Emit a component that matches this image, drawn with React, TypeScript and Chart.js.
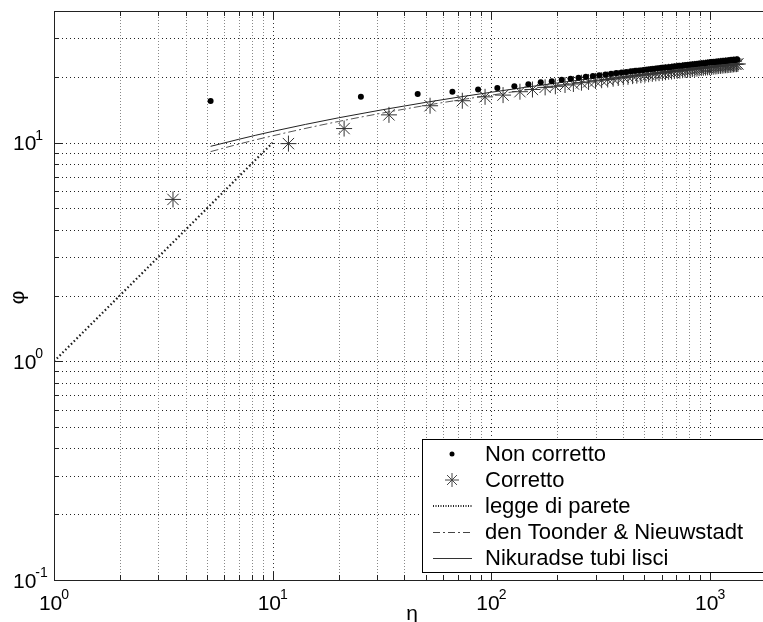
import React, { useEffect, useRef } from "react";
import { Chart, registerables } from "chart.js";

Chart.register(...registerables);

// ---- data ----
const nonCorrettoX = [5.2, 25.3, 46.0, 66.3, 86.9, 106.4, 127.3, 147.5, 168.0, 188.7, 209.5, 230, 250, 270, 291, 311, 332, 352, 372, 393, 413, 434, 454, 474, 495, 515, 536, 556, 576, 597, 617, 638, 658, 678, 699, 719, 740, 760, 780, 801, 821, 842, 862, 882, 903, 923, 944, 964, 984, 1005, 1025, 1046, 1066, 1086, 1107, 1127, 1148, 1168, 1188, 1209, 1229, 1250, 1270, 1290, 1311, 1331];
const nonCorrettoY = [15.5, 16.2, 16.7, 17.1, 17.5, 17.8, 18.1, 18.5, 18.9, 19.1, 19.4, 19.6, 19.8, 20.0, 20.2, 20.35, 20.5, 20.65, 20.8, 20.95, 21.05, 21.2, 21.3, 21.4, 21.5, 21.6, 21.7, 21.8, 21.9, 22.0, 22.05, 22.15, 22.2, 22.3, 22.35, 22.45, 22.5, 22.6, 22.65, 22.7, 22.8, 22.85, 22.9, 22.95, 23.0, 23.05, 23.1, 23.2, 23.25, 23.3, 23.35, 23.4, 23.45, 23.5, 23.5, 23.55, 23.6, 23.65, 23.7, 23.75, 23.8, 23.85, 23.9, 23.9, 23.95, 24.0];

const correttoX = [3.5, 11.8, 21.2, 34.0, 52.4, 73.6, 93.5, 113, 135, 154, 176, 196, 217, 237, 258, 278, 299, 319, 340, 360, 380, 401, 421, 442, 462, 482, 503, 523, 544, 564, 584, 605, 625, 646, 666, 686, 707, 727, 748, 768, 788, 809, 829, 850, 870, 890, 911, 931, 952, 972, 992, 1013, 1033, 1054, 1074, 1094, 1115, 1135, 1156, 1176, 1196, 1217, 1237, 1258, 1278, 1298, 1319, 1339];
const correttoY = [5.5, 9.9, 11.6, 13.4, 14.75, 15.55, 16.2, 16.5, 17.1, 17.5, 17.9, 18.1, 18.35, 18.55, 18.8, 18.95, 19.15, 19.3, 19.45, 19.6, 19.75, 19.9, 20.0, 20.15, 20.25, 20.35, 20.45, 20.55, 20.65, 20.75, 20.8, 20.9, 21.0, 21.1, 21.15, 21.25, 21.3, 21.35, 21.45, 21.5, 21.55, 21.65, 21.7, 21.75, 21.8, 21.9, 21.95, 22.0, 22.05, 22.1, 22.15, 22.2, 22.25, 22.3, 22.35, 22.4, 22.45, 22.5, 22.55, 22.6, 22.6, 22.65, 22.7, 22.75, 22.8, 22.85, 22.85, 22.9];

const leggeX = [1, 10];
const leggeY = [1, 10];

const toonderX = [5.2, 7, 10, 20, 50, 100, 200, 500, 1000, 1400];
const toonderY = [9.1, 9.85, 10.75, 12.5, 14.8, 16.5, 18.25, 20.55, 22.25, 23.1];

const nikuradseX = [5.2, 7, 10, 20, 50, 100, 200, 500, 1000, 1400];
const nikuradseY = [9.62, 10.36, 11.26, 12.99, 15.28, 17.01, 18.75, 21.04, 22.77, 23.61];

const legendLabels = ["Non corretto", "Corretto", "legge di parete", "den Toonder & Nieuwstadt", "Nikuradse tubi lisci"];

const xMajorTicks = [1, 10, 100, 1000];
const xTickExps = ["0", "1", "2", "3"];
const xMinorTicks = [2, 3, 4, 5, 6, 7, 8, 9, 20, 30, 40, 50, 60, 70, 80, 90, 200, 300, 400, 500, 600, 700, 800, 900];
const yMajorTicks = [0.1, 1, 10];
const yTickExps = ["-1", "0", "1"];
const yMinorTicks = [0.2, 0.3, 0.4, 0.5, 0.6, 0.7, 0.8, 0.9, 2, 3, 4, 5, 6, 7, 8, 9, 20, 30];

const xTitle = "η";
const yTitle = "φ";

const X_MIN = 1;
const X_MAX = 2000;
const Y_MIN = 0.1;
const Y_MAX = 40;

const FONT = '"Liberation Sans", Arial, sans-serif';

const pts = (xs: number[], ys: number[]) => xs.map((x, i) => ({ x, y: ys[i] }));

function drawStar(ctx: CanvasRenderingContext2D, cx: number, cy: number, r: number) {
  const d = r * Math.SQRT1_2;
  ctx.beginPath();
  ctx.moveTo(cx - r, cy); ctx.lineTo(cx + r, cy);
  ctx.moveTo(cx, cy - r); ctx.lineTo(cx, cy + r);
  ctx.moveTo(cx - d, cy - d); ctx.lineTo(cx + d, cy + d);
  ctx.moveTo(cx - d, cy + d); ctx.lineTo(cx + d, cy - d);
  ctx.stroke();
}

const matlabPlugin = {
  id: "matlabAxes",
  beforeDatasetsDraw(chart: any) {
    const { ctx, chartArea: a, scales } = chart;
    const xs = scales.x, ys = scales.y;
    ctx.save();
    ctx.lineWidth = 1;
    ctx.strokeStyle = "#222";
    ctx.setLineDash([1, 3]);
    for (const v of [...yMajorTicks, ...yMinorTicks]) {
      const py = Math.round(ys.getPixelForValue(v)) + 0.5;
      if (py < a.top + 1 || py > a.bottom - 1) continue;
      ctx.beginPath(); ctx.moveTo(a.left, py); ctx.lineTo(a.right, py); ctx.stroke();
    }
    for (const v of [...xMajorTicks, ...xMinorTicks]) {
      const px = Math.round(xs.getPixelForValue(v)) + 0.5;
      if (px < a.left + 1 || px > a.right - 1) continue;
      const major = xMajorTicks.includes(v);
      ctx.strokeStyle = major ? "#333" : "#888";
      ctx.setLineDash(major ? [1, 3] : [1, 2]);
      ctx.beginPath(); ctx.moveTo(px, a.top); ctx.lineTo(px, a.bottom); ctx.stroke();
    }
    ctx.restore();
  },
  afterDraw(chart: any) {
    const { ctx, chartArea: a, scales } = chart;
    const xs = scales.x, ys = scales.y;
    ctx.save();
    ctx.setLineDash([]);
    ctx.lineWidth = 1;
    ctx.strokeStyle = "#222";
    const tickX = (v: number, len: number) => {
      const px = Math.round(xs.getPixelForValue(v)) + 0.5;
      ctx.beginPath();
      ctx.moveTo(px, a.bottom); ctx.lineTo(px, a.bottom - len);
      ctx.moveTo(px, a.top); ctx.lineTo(px, a.top + len);
      ctx.stroke();
    };
    const tickY = (v: number, len: number) => {
      const py = Math.round(ys.getPixelForValue(v)) + 0.5;
      ctx.beginPath();
      ctx.moveTo(a.left, py); ctx.lineTo(a.left + len, py);
      ctx.moveTo(a.right, py); ctx.lineTo(a.right - len, py);
      ctx.stroke();
    };
    xMajorTicks.forEach((v) => tickX(v, 8));
    xMinorTicks.forEach((v) => tickX(v, 5));
    yMajorTicks.forEach((v) => tickY(v, 8));
    yMinorTicks.forEach((v) => tickY(v, 5));

    ctx.strokeStyle = "#222";
    ctx.strokeRect(Math.round(a.left) + 0.5, Math.round(a.top) + 0.5, Math.round(a.right - a.left), Math.round(a.bottom - a.top));

    // legend
    const lx = 422, ly = 439, lw = 346, lh = 133;
    ctx.fillStyle = "#fff";
    ctx.fillRect(lx, ly, lw, lh);
    ctx.strokeStyle = "#000";
    ctx.strokeRect(lx + 0.5, ly + 0.5, lw, lh);
    const rowY = (i: number) => ly + 15 + 26 * i;
    const sx0 = 433, sx1 = 472, sxc = 452;
    ctx.fillStyle = "#000";
    ctx.beginPath(); ctx.arc(sxc, rowY(0), 2.5, 0, Math.PI * 2); ctx.fill();
    ctx.strokeStyle = "#444";
    drawStar(ctx, sxc, rowY(1), 7);
    ctx.strokeStyle = "#222"; ctx.lineWidth = 2; ctx.setLineDash([1, 1.5]);
    ctx.beginPath(); ctx.moveTo(sx0, rowY(2)); ctx.lineTo(sx1, rowY(2)); ctx.stroke();
    ctx.strokeStyle = "#444"; ctx.lineWidth = 1; ctx.setLineDash([7, 3, 2, 3]);
    ctx.beginPath(); ctx.moveTo(sx0, rowY(3) + 0.5); ctx.lineTo(sx1, rowY(3) + 0.5); ctx.stroke();
    ctx.strokeStyle = "#333"; ctx.setLineDash([]);
    ctx.beginPath(); ctx.moveTo(sx0, rowY(4) + 0.5); ctx.lineTo(sx1, rowY(4) + 0.5); ctx.stroke();
    ctx.fillStyle = "#000";
    ctx.font = `22px ${FONT}`;
    ctx.textAlign = "left";
    ctx.textBaseline = "middle";
    legendLabels.forEach((t, i) => ctx.fillText(t, 485, rowY(i) + 1));

    // tick labels with exponents
    ctx.textBaseline = "alphabetic";
    ctx.textAlign = "left";
    const bigFont = `21px ${FONT}`;
    const smallFont = `14px ${FONT}`;
    xMajorTicks.forEach((v, i) => {
      const px = xs.getPixelForValue(v);
      ctx.font = bigFont; const w1 = ctx.measureText("10").width;
      ctx.font = smallFont; const w2 = ctx.measureText(xTickExps[i]).width;
      const start = px - (w1 - 1 + w2) / 2;
      ctx.font = bigFont; ctx.fillText("10", start, 610);
      ctx.font = smallFont; ctx.fillText(xTickExps[i], start + w1 - 1, 599);
    });
    yMajorTicks.forEach((v, i) => {
      const py = ys.getPixelForValue(v);
      ctx.font = bigFont; const w1 = ctx.measureText("10").width;
      const left = 13;
      ctx.font = bigFont; ctx.fillText("10", left, py + 7.5);
      ctx.font = smallFont; ctx.fillText(yTickExps[i], left + w1 - 1, py - 3);
    });

    // axis titles
    ctx.font = `21px ${FONT}`;
    ctx.textAlign = "center";
    ctx.textBaseline = "middle";
    ctx.fillText(xTitle, (a.left + a.right) / 2 - 3, 614);
    ctx.save();
    ctx.translate(18, (a.top + a.bottom) / 2 + 2);
    ctx.rotate(-Math.PI / 2);
    ctx.fillText(yTitle, 0, 0);
    ctx.restore();

    ctx.restore();
  },
};

export default function App() {
  const ref = useRef<HTMLCanvasElement | null>(null);
  useEffect(() => {
    if (!ref.current) return;
    const chart = new Chart(ref.current, {
      type: "scatter",
      data: {
        datasets: [
          {
            label: legendLabels[0],
            data: pts(nonCorrettoX, nonCorrettoY),
            pointStyle: "circle",
            pointRadius: 3,
            backgroundColor: "#000",
            borderColor: "#000",
            borderWidth: 0,
            showLine: false,
          },
          {
            label: legendLabels[1],
            data: pts(correttoX, correttoY),
            pointStyle: "star",
            pointRadius: 8,
            backgroundColor: "rgba(0,0,0,0)",
            borderColor: "#333",
            borderWidth: 1,
            showLine: false,
          },
          {
            label: legendLabels[2],
            data: pts(leggeX, leggeY),
            showLine: true,
            pointRadius: 0,
            borderColor: "#1a1a1a",
            borderWidth: 2.2,
            borderDash: [1.5, 2.5],
          },
          {
            label: legendLabels[3],
            data: pts(toonderX, toonderY),
            showLine: true,
            pointRadius: 0,
            borderColor: "#555",
            borderWidth: 1,
            borderDash: [8, 3, 2, 3],
            cubicInterpolationMode: "monotone",
          },
          {
            label: legendLabels[4],
            data: pts(nikuradseX, nikuradseY),
            showLine: true,
            pointRadius: 0,
            borderColor: "#222",
            borderWidth: 1,
            cubicInterpolationMode: "monotone",
          },
        ],
      },
      options: {
        responsive: false,
        animation: false,
        devicePixelRatio: 1,
        events: [],
        layout: { padding: { left: 54, top: 11, right: 14, bottom: 42 } },
        plugins: { legend: { display: false }, tooltip: { enabled: false } },
        scales: {
          x: { type: "logarithmic", min: X_MIN, max: X_MAX, display: false },
          y: { type: "logarithmic", min: Y_MIN, max: Y_MAX, display: false },
        },
      } as any,
      plugins: [matlabPlugin],
    });
    return () => chart.destroy();
  }, []);

  return (
    <div style={{ position: "fixed", left: 0, top: 0, width: 763, height: 622, overflow: "hidden", background: "#fff" }}>
      <canvas ref={ref} width={790} height={622} style={{ width: 790, height: 622, display: "block" }} />
    </div>
  );
}
